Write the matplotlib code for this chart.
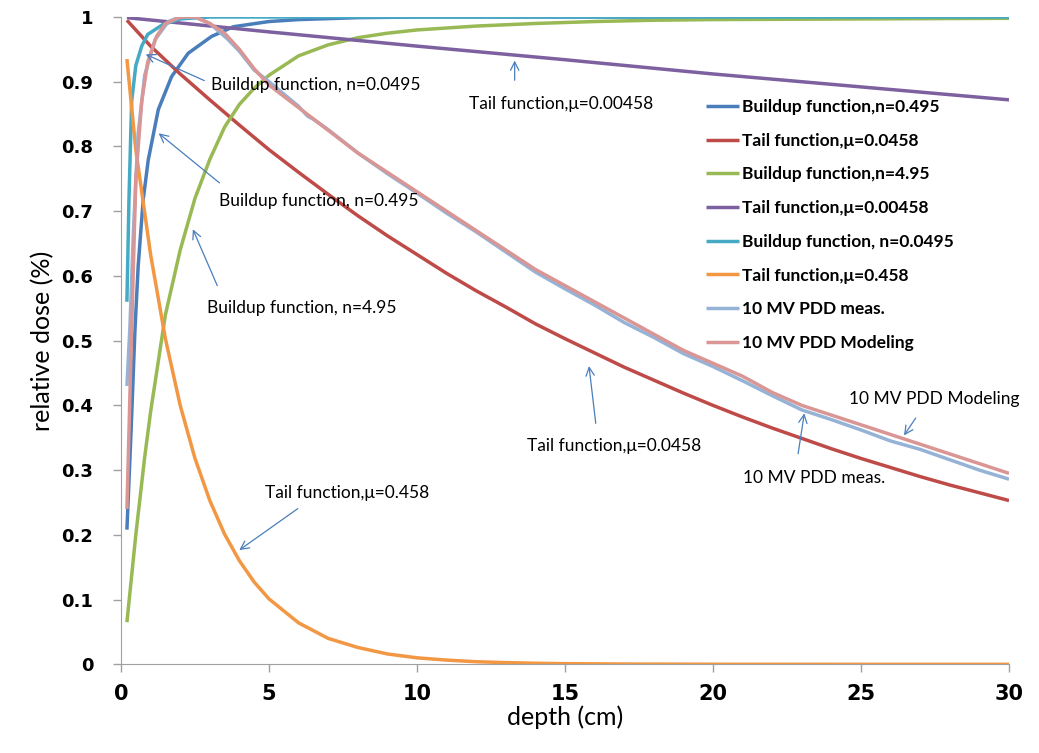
import matplotlib
matplotlib.use("Agg")
import matplotlib.pyplot as plt

# depth (cm) / relative dose values
bu_0495_x = [0.2, 0.34, 0.47, 0.58, 0.75, 0.92, 1.26, 1.71, 2.27, 3.06, 3.8, 5, 6, 8, 10, 15, 20, 25, 30]
bu_0495_y = [0.208, 0.36, 0.515, 0.615, 0.718, 0.779, 0.857, 0.908, 0.944, 0.970, 0.985, 0.993, 0.996, 0.999, 1.0, 1.0, 1.0, 1.0, 1.0]

tail_0458_x = [0.2, 1, 2, 3, 4, 5, 6, 7, 8, 9, 10, 11, 12, 13, 14, 15, 16, 17, 18, 19, 20,
               21, 22, 23, 24, 25, 26, 27, 28, 29, 30]
tail_0458_y = [0.995, 0.955, 0.912, 0.872, 0.833, 0.795, 0.760, 0.726, 0.693, 0.662, 0.633,
               0.604, 0.577, 0.552, 0.526, 0.503, 0.481, 0.459, 0.439, 0.419, 0.400,
               0.382, 0.365, 0.349, 0.333, 0.318, 0.304, 0.290, 0.277, 0.265, 0.253]

bu_495_x = [0.2, 0.5, 0.8, 1.0, 1.5, 2.0, 2.5, 3.0, 3.5, 4.0, 4.5, 5.0, 6, 7, 8, 9, 10, 12, 14, 16, 18, 20, 25, 30]
bu_495_y = [0.065, 0.20, 0.32, 0.39, 0.54, 0.64, 0.72, 0.78, 0.83, 0.865, 0.89, 0.91, 0.94, 0.957, 0.968,
            0.975, 0.98, 0.986, 0.99, 0.993, 0.995, 0.996, 0.997, 0.998]

tail_00458_x = [0.2, 5, 10, 15, 20, 25, 30]
tail_00458_y = [0.999, 0.977, 0.955, 0.934, 0.912, 0.892, 0.872]

bu_00495_x = [0.2, 0.27, 0.36, 0.5, 0.7, 0.9, 1.4, 2, 3, 10, 20, 30]
bu_00495_y = [0.56, 0.72, 0.87, 0.925, 0.955, 0.973, 0.988, 0.997, 1.0, 1.0, 1.0, 1.0]

tail_458_x = [0.2, 0.5, 1, 1.5, 2, 2.5, 3, 3.5, 4, 4.5, 5, 6, 7, 8, 9, 10, 11, 12, 13, 14, 15, 17, 20, 25, 30]
tail_458_y = [0.935, 0.795, 0.633, 0.503, 0.40, 0.318, 0.253, 0.201, 0.16, 0.127, 0.101, 0.064, 0.04,
              0.026, 0.016, 0.01, 0.0065, 0.004, 0.0026, 0.0016, 0.001, 0.0004, 0.0001, 0.0, 0.0]

meas_x = [0.2, 0.3, 0.42, 0.58, 0.8, 1.15, 1.6, 2, 2.5, 3, 3.4, 3.6, 4.0, 4.5, 5.0, 5.5, 6.0, 6.3, 6.5,
          7, 8, 9, 10, 11, 12, 13, 14, 15, 16, 17, 18, 19, 20, 21, 22, 23, 24, 25, 26, 27, 28, 29, 30]
meas_y = [0.43, 0.52, 0.67, 0.82, 0.91, 0.965, 0.993, 1.0, 1.0, 0.99, 0.974, 0.966, 0.947, 0.918, 0.9,
          0.881, 0.862, 0.847, 0.842, 0.826, 0.79, 0.758, 0.728, 0.697, 0.668, 0.637, 0.606, 0.58, 0.555,
          0.528, 0.505, 0.48, 0.46, 0.438, 0.415, 0.393, 0.378, 0.362, 0.345, 0.332, 0.316, 0.30, 0.286]

model_x = [0.2, 0.35, 0.5, 0.7, 0.9, 1.2, 1.5, 2.0, 2.5, 3.0, 3.5, 4.0, 4.5, 5, 6, 7, 8, 9, 10, 11, 12, 13,
           14, 15, 16, 17, 18, 19, 20, 21, 22, 23, 24, 25, 26, 27, 28, 29, 30]
model_y = [0.24, 0.50, 0.75, 0.87, 0.93, 0.97, 0.99, 1.0, 1.0, 0.99, 0.975, 0.95, 0.92, 0.895, 0.86, 0.825,
           0.79, 0.76, 0.73, 0.70, 0.67, 0.64, 0.61, 0.585, 0.56, 0.535, 0.51, 0.485, 0.465, 0.445, 0.42,
           0.40, 0.385, 0.37, 0.355, 0.34, 0.325, 0.31, 0.295]

series = [
    (bu_0495_x, bu_0495_y, "Buildup function,n=0.495", "#4a7ebb"),
    (tail_0458_x, tail_0458_y, "Tail function,\u03bc=0.0458", "#be4b48"),
    (bu_495_x, bu_495_y, "Buildup function,n=4.95", "#98b954"),
    (tail_00458_x, tail_00458_y, "Tail function,\u03bc=0.00458", "#7d60a0"),
    (bu_00495_x, bu_00495_y, "Buildup function, n=0.0495", "#46aac5"),
    (tail_458_x, tail_458_y, "Tail function,\u03bc=0.458", "#f29743"),
    (meas_x, meas_y, "10 MV PDD meas.", "#95b3d7"),
    (model_x, model_y, "10 MV PDD Modeling", "#d99694"),
]

# annotation text, text anchor (left/centre), arrow tail, arrow tip
notes = [
    ("Buildup function, n=0.0495", (3.05, 0.895), (2.9, 0.90), (0.75, 0.944)),
    ("Buildup function, n=0.495", (3.3, 0.716), (3.4, 0.741), (1.2, 0.823)),
    ("Buildup function, n=4.95", (2.9, 0.551), (3.29, 0.581), (2.39, 0.676)),
    ("Tail function,\u03bc=0.458", (4.85, 0.265), (6.05, 0.243), (3.92, 0.174)),
    ("Tail function,\u03bc=0.00458", (11.75, 0.866), (13.3, 0.898), (13.3, 0.937)),
    ("Tail function,\u03bc=0.0458", (13.7, 0.337), (16.05, 0.368), (15.8, 0.465)),
    ("10 MV PDD meas.", (21.0, 0.288), (22.86, 0.321), (23.1, 0.392)),
    ("10 MV PDD Modeling", (24.6, 0.41), (26.9, 0.384), (26.4, 0.35)),
]

fig = plt.figure(figsize=(10.39, 7.53), dpi=100)
ax = fig.add_axes([121 / 1039, 1 - 664.3 / 753, 888 / 1039, 647.3 / 753])

for xs, ys, name, col in series:
    ax.plot(xs, ys, color=col, lw=2.5, label=name, solid_capstyle="butt")

for txt, pos, tail, tip in notes:
    ax.text(pos[0], pos[1], txt, fontsize=12.5, family="Lato", va="center", ha="left")
    ax.annotate("", xy=tip, xytext=tail,
                arrowprops=dict(arrowstyle="->", color="#4a7ebb", lw=0.9, mutation_scale=15))

ax.set_xlim(0, 30)
ax.set_ylim(0, 1)
ax.set_xticks([0, 5, 10, 15, 20, 25, 30])
ax.set_yticks([0, 0.1, 0.2, 0.3, 0.4, 0.5, 0.6, 0.7, 0.8, 0.9, 1])
ax.set_yticklabels(["0", "0.1", "0.2", "0.3", "0.4", "0.5", "0.6", "0.7", "0.8", "0.9", "1"])
for lbl in ax.get_yticklabels():
    lbl.set_fontweight("bold")
    lbl.set_fontsize(13)
for lbl in ax.get_xticklabels():
    lbl.set_fontweight("bold")
    lbl.set_fontsize(15)
    lbl.set_family("Liberation Sans Narrow")

ax.tick_params(axis="both", direction="out", length=6, color="#a0a0a0", width=1)
ax.tick_params(axis="y", pad=14)
ax.tick_params(axis="x", pad=8)
for s in ("top", "right"):
    ax.spines[s].set_visible(False)
for s in ("left", "bottom"):
    ax.spines[s].set_color("#a0a0a0")

ax.set_xlabel("depth (cm)", fontsize=18, family="Lato")
ax.set_ylabel("relative dose (%)", fontsize=18, family="Lato")
ax.xaxis.set_label_coords(0.5, -0.063)
ax.yaxis.set_label_coords(-0.075, 0.5)

leg = ax.legend(loc="upper left", bbox_to_anchor=(0.651, 0.884), frameon=False,
                prop={"weight": "bold", "size": 12.5, "family": "Lato"}, handlelength=1.9,
                handletextpad=0.15, labelspacing=1.02, borderaxespad=0)

fig.savefig("out.png", dpi=100)
